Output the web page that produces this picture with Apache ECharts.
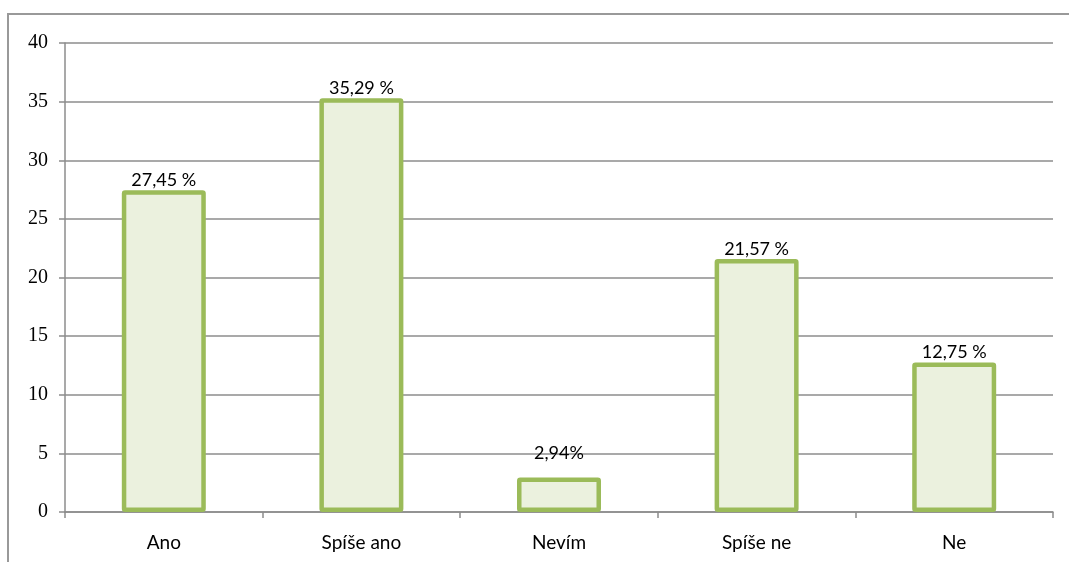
<!DOCTYPE html>
<html>
<head>
<meta charset="utf-8">
<script src="https://cdn.jsdelivr.net/npm/echarts@6/dist/echarts.min.js"></script>
<style>
  html, body { margin: 0; padding: 0; background: #fff; }
  #chart { width: 1069px; height: 562px; }
</style>
</head>
<body>
<div id="chart"></div>
<script>
// Survey answers and their shares in percent
const categories = ['Ano', 'Spíše ano', 'Nevím', 'Spíše ne', 'Ne'];
const values = [27.45, 35.29, 2.94, 21.57, 12.75];
const valueLabels = ['27,45 %', '35,29 %', '2,94%', '21,57 %', '12,75 %'];
const yTicks = [0, 5, 10, 15, 20, 25, 30, 35, 40];

const chart = echarts.init(document.getElementById('chart'), null, { renderer: 'canvas' });

const gridColor = '#8c8c8c';

chart.setOption({
  animation: false,
  graphic: [{
    type: 'polyline',
    shape: { points: [[8, 600], [8, 14], [1080, 14]] },
    style: { stroke: '#999', lineWidth: 2, fill: null }
  }],
  grid: { left: 65, right: 16, top: 43, bottom: 50, containLabel: false },
  xAxis: {
    type: 'category',
    data: categories,
    axisLine: { lineStyle: { color: gridColor, width: 1.5 } },
    axisTick: { show: true, length: 6, alignWithLabel: false, lineStyle: { color: gridColor, width: 1.5 } },
    axisLabel: { color: '#000', fontFamily: 'Lato', fontSize: 19, margin: 21 }
  },
  yAxis: {
    type: 'value',
    min: yTicks[0],
    max: yTicks[yTicks.length - 1],
    interval: 5,
    axisLine: { show: true, lineStyle: { color: gridColor, width: 1.5 } },
    axisTick: { show: true, length: 6, lineStyle: { color: gridColor, width: 1.5 } },
    splitLine: { lineStyle: { color: gridColor, width: 1.5 } },
    axisLabel: { color: '#000', fontFamily: 'Liberation Serif', fontSize: 20, margin: 17 }
  },
  series: [{
    type: 'bar',
    barWidth: '42.5%',
    data: values.map((v, i) => ({
      value: v,
      label: { distance: categories[i] === 'Nevím' ? 15 : 1 }
    })),
    itemStyle: {
      color: '#EBF1DE',
      borderColor: '#9BBB59',
      borderWidth: 4.5,
      borderRadius: 1
    },
    label: {
      show: true,
      position: 'top',
      color: '#000',
      fontFamily: 'Lato',
      fontSize: 18,
      formatter: p => valueLabels[p.dataIndex]
    }
  }]
});
</script>
</body>
</html>
